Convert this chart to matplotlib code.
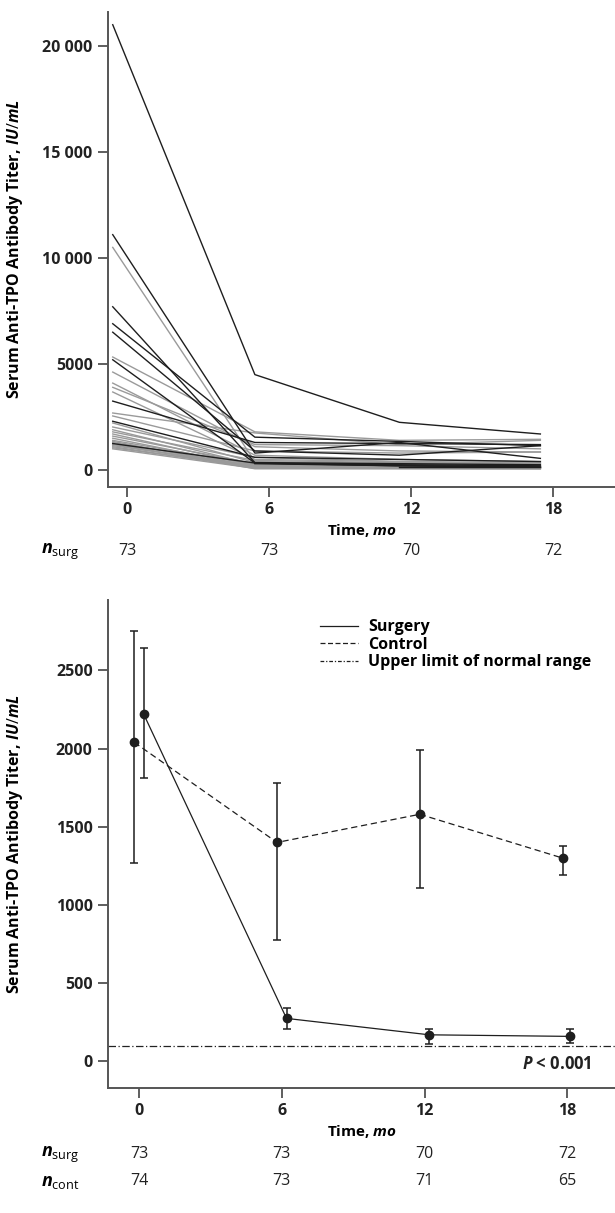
import numpy as np
import matplotlib
matplotlib.use("Agg")
import matplotlib.pyplot as plt
from matplotlib.lines import Line2D

plt.rcParams['font.family'] = ['Open Sans', 'DejaVu Sans']
plt.rcParams['mathtext.fontset'] = 'custom'
plt.rcParams['mathtext.rm'] = 'Open Sans'
plt.rcParams['mathtext.it'] = 'Open Sans:italic:bold'
plt.rcParams['mathtext.bf'] = 'Open Sans:bold'

# ---------------------------------------------------------------------------
# Data
# ---------------------------------------------------------------------------
# top panel: individual patients (values at the 4 visits, nan = missing)
top_times = [-0.6, 5.4, 11.5, 17.45]
black_patients = [
    [21000, 4500, 2250, 1700],
    [11100, 800, 1300, 550],
    [7700, 350, 300, 250],
    [6900, 1550, 1350, 1150],
    [6500, 900, 700, 1150],
    [5200, 330, 250, 200],
    [3250, 1300, 1250, 1200],
    [2300, 600, 500, 400],
    [1250, 330, 200, 150],
    [np.nan, np.nan, 150, 150],
    [np.nan, 300, 200, 130],
]
gray_patients = [
    [10500, 400, 300, 200],
    [5330, 1800, 1400, 1450],
    [4620, 1100, 900, 850],
    [4100, 700, 500, 400],
    [3900, 1200, 1150, 1000],
    [3680, 500, 400, 350],
    [2690, 1750, 1200, 1400],
    [2550, 900, 800, 850],
    [2220, 350, 300, 250],
    [2030, 600, 400, 300],
    [1900, 250, 200, 180],
    [1800, 450, 350, 300],
    [1700, 200, 150, 150],
    [1600, 300, 250, 200],
    [1500, 150, 120, 110],
    [1400, 250, 200, 150],
    [1350, 100, 100, 100],
    [1300, 180, 150, 130],
    [1250, 60, 60, 50],
    [1200, 120, 110, 100],
    [1150, 200, 170, 150],
    [1100, 100, 90, 80],
    [1050, 150, 120, 100],
    [1000, 80, 70, 60],
]
top_yticks = [0, 5000, 10000, 15000, 20000]
top_yticklabels = ['0', '5000', '10 000', '15 000', '20 000']

# bottom panel: group means with error bars
visits = [0, 6, 12, 18]
surg_times = [0.2, 6.2, 12.2, 18.1]
surg_mean = [2220, 275, 170, 160]
surg_low = [1810, 210, 110, 120]
surg_high = [2640, 340, 210, 210]
cont_times = [-0.2, 5.8, 11.8, 17.8]
cont_mean = [2040, 1400, 1580, 1300]
cont_low = [1270, 775, 1110, 1195]
cont_high = [2750, 1780, 1990, 1380]
upper_normal = 100
bottom_yticks = [0, 500, 1000, 1500, 2000, 2500]

n_surg_top = [73, 73, 70, 72]
n_surg = [73, 73, 70, 72]
n_cont = [74, 73, 71, 65]

# ---------------------------------------------------------------------------
# Figure
# ---------------------------------------------------------------------------
W, H = 615, 1213
fig = plt.figure(figsize=(W / 100, H / 100), dpi=100)

def px_axes(left, top, right, bottom):
    return fig.add_axes([left / W, 1 - bottom / H, (right - left) / W, (bottom - top) / H])

spine_col = '#555555'
TICK_FS = 11.5
N_FS = 11.5

def style(ax):
    for s in ['top', 'right']:
        ax.spines[s].set_visible(False)
    for s in ['left', 'bottom']:
        ax.spines[s].set_color(spine_col)
        ax.spines[s].set_linewidth(1.4)
    ax.tick_params(direction='out', length=7, width=1.1, color='#333333', pad=4)
    for lab in ax.get_xticklabels() + ax.get_yticklabels():
        lab.set_fontweight('bold')
        lab.set_fontsize(TICK_FS)
        lab.set_color('#222222')

ylab = r'Serum Anti-TPO Antibody Titer, $\mathit{IU/mL}$'
xlab = r'Time, $\mathit{mo}$'

# --- top panel ---
ax1 = px_axes(108, 12, 615, 487)
for row in gray_patients:
    ax1.plot(top_times, row, color='#9a9a9a', lw=1.0)
for row in black_patients:
    ax1.plot(top_times, row, color='#1e1e1e', lw=1.0)
ax1.set_xlim(-0.8, 20.6)
ax1.set_ylim(-800, 21600)
ax1.set_xticks(visits)
ax1.set_yticks(top_yticks)
ax1.set_yticklabels(top_yticklabels)
style(ax1)
ax1.set_xlabel(xlab, fontsize=11, fontweight='bold', labelpad=3)
ax1.set_ylabel(ylab, fontsize=11.5, fontweight='bold')
ax1.yaxis.set_label_coords(-0.163, 0.5)

for x, n in zip(visits, n_surg_top):
    ax1.text(x, -0.135, str(n), transform=ax1.get_xaxis_transform(),
             ha='center', va='center', fontsize=N_FS, color='#222222')
fig.text(79 / W, 1 - 552 / H, r'$\mathit{n}_{\mathrm{surg}}$', ha='right', va='center',
         fontsize=13)

# --- bottom panel ---
ax2 = px_axes(108, 600, 615, 1088)
ax2.axhline(upper_normal, color='#222222', lw=0.9, ls=(0, (6, 2, 1, 2)))
ax2.errorbar(cont_times, cont_mean,
             yerr=[np.subtract(cont_mean, cont_low), np.subtract(cont_high, cont_mean)],
             fmt='o', color='#1e1e1e', ms=6, ls=(0, (5, 3)), lw=0.9, elinewidth=1.1,
             capsize=3, capthick=1.1)
ax2.errorbar(surg_times, surg_mean,
             yerr=[np.subtract(surg_mean, surg_low), np.subtract(surg_high, surg_mean)],
             fmt='o', color='#1e1e1e', ms=6, ls='-', lw=0.9, elinewidth=1.1,
             capsize=3, capthick=1.1)
ax2.set_xlim(-1.3, 20.0)
ax2.set_ylim(-170, 2950)
ax2.set_xticks(visits)
ax2.set_yticks(bottom_yticks)
style(ax2)
ax2.set_xlabel(xlab, fontsize=11, fontweight='bold', labelpad=3)
ax2.set_ylabel(ylab, fontsize=11.5, fontweight='bold')
ax2.yaxis.set_label_coords(-0.163, 0.5)

handles = [Line2D([], [], color='#1e1e1e', lw=0.9, ls='-'),
           Line2D([], [], color='#1e1e1e', lw=0.9, ls=(0, (4, 2))),
           Line2D([], [], color='#1e1e1e', lw=0.9, ls=(0, (3, 1.5, 1, 1.5)))]
leg = ax2.legend(handles, ['Surgery', 'Control', 'Upper limit of normal range'],
                 loc='upper left', bbox_to_anchor=(0.39, 0.99), frameon=False,
                 handlelength=2.4, handletextpad=0.6, labelspacing=0.1,
                 prop={'weight': 'bold', 'size': 11.5})

ax2.text(0.955, 0.03, r'$\mathit{P}$ < 0.001', transform=ax2.transAxes,
         ha='right', va='bottom', fontsize=12, fontweight='bold', color='#222222')

for x, n1, n2 in zip(visits, n_surg, n_cont):
    ax2.text(x, -0.135, str(n1), transform=ax2.get_xaxis_transform(),
             ha='center', va='center', fontsize=N_FS, color='#222222')
    ax2.text(x, -0.19, str(n2), transform=ax2.get_xaxis_transform(),
             ha='center', va='center', fontsize=N_FS, color='#222222')
fig.text(79 / W, 1 - 1155 / H, r'$\mathit{n}_{\mathrm{surg}}$', ha='right', va='center',
         fontsize=13)
fig.text(79 / W, 1 - 1182 / H, r'$\mathit{n}_{\mathrm{cont}}$', ha='right', va='center',
         fontsize=13)

fig.savefig('out.png', dpi=100)
